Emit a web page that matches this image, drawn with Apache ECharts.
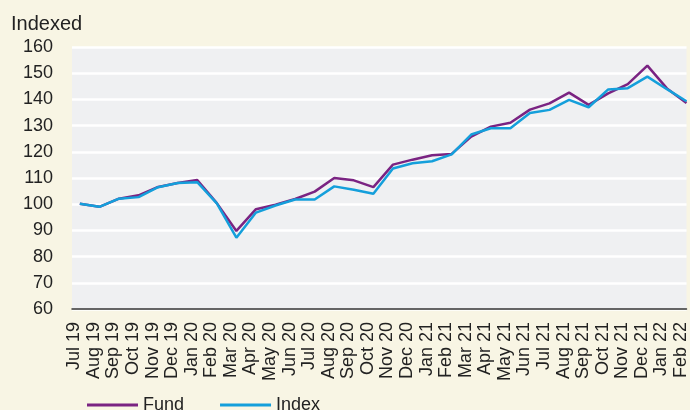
<!DOCTYPE html>
<html>
<head>
<meta charset="utf-8">
<script src="https://cdn.jsdelivr.net/npm/echarts@6/dist/echarts.min.js"></script>
<style>
    html, body { margin: 0; padding: 0; background: #F8F5E4; }
    #chart_area { width: 690px; height: 410px; }
</style>
</head>
<body>
<div id="chart_area"></div>
<script>
const months = ['Jul 19', 'Aug 19', 'Sep 19', 'Oct 19', 'Nov 19', 'Dec 19', 'Jan 20', 'Feb 20',
    'Mar 20', 'Apr 20', 'May 20', 'Jun 20', 'Jul 20', 'Aug 20', 'Sep 20', 'Oct 20',
    'Nov 20', 'Dec 20', 'Jan 21', 'Feb 21', 'Mar 21', 'Apr 21', 'May 21', 'Jun 21',
    'Jul 21', 'Aug 21', 'Sep 21', 'Oct 21', 'Nov 21', 'Dec 21', 'Jan 22', 'Feb 22'];

const fundValues = [100.2, 99, 102.1, 103.4, 106.6, 108.1, 109.2, 100.4,
    89.8, 98.1, 99.8, 102, 104.8, 110, 109.1, 106.5,
    115.1, 117, 118.7, 119.2, 125.8, 129.6, 131.1, 136.1,
    138.5, 142.6, 137.9, 142.3, 145.8, 152.9, 144.2, 138.6];

const indexValues = [100.2, 99, 102.1, 102.7, 106.5, 108.1, 108.4, 100.3,
    87.2, 96.8, 99.5, 101.8, 101.8, 106.8, 105.5, 104,
    113.6, 115.6, 116.4, 119, 126.6, 129, 129, 134.8,
    136, 139.8, 137, 143.8, 144.3, 148.7, 143.9, 139.3];

const yTicks = [60, 70, 80, 90, 100, 110, 120, 130, 140, 150, 160];

displayFundChart();

function displayFundChart() {
    let myChart = echarts.init(document.getElementById('chart_area'));
    const font = 'Liberation Sans, Arial, sans-serif';

    let option = {
        animation: false,
        backgroundColor: '#F8F5E4',
        textStyle: { fontFamily: font },
        title: {
            text: 'Indexed',
            left: 6,
            top: 9,
            textStyle: { fontSize: 20, fontWeight: 'normal', color: '#222', fontFamily: font }
        },
        grid: {
            left: 72,
            right: 0,
            top: 47,
            bottom: 101,
            show: true,
            backgroundColor: '#EFF0F2',
            borderWidth: 0
        },
        legend: {
            left: 87,
            top: 396,
            padding: 0,
            icon: 'rect',
            itemWidth: 51,
            itemHeight: 3,
            itemGap: 36,
            textStyle: { fontSize: 18, color: '#222', fontFamily: font },
            data: ['Fund', 'Index']
        },
        xAxis: {
            type: 'value',
            min: -0.4,
            max: months.length - 1,
            axisLine: { show: true, onZero: false, lineStyle: { color: '#333', width: 1.5 } },
            axisTick: { show: false },
            splitLine: { show: false },
            axisLabel: {
                customValues: months.map((m, i) => i),
                formatter: v => months[v],
                rotate: 90,
                margin: 13,
                verticalAlign: 'bottom',
                lineHeight: 11,
                fontSize: 18,
                color: '#222',
                fontFamily: font
            }
        },
        yAxis: {
            type: 'value',
            min: yTicks[0],
            max: yTicks[yTicks.length - 1],
            interval: 10,
            axisLine: { show: false },
            axisTick: { show: false },
            splitLine: { lineStyle: { color: '#FFFFFF', width: 2.5 } },
            axisLabel: { fontSize: 18, color: '#222', margin: 19, fontFamily: font }
        },
        series: [
            {
                name: 'Fund',
                type: 'line',
                symbol: 'none',
                color: '#7A2382',
                lineStyle: { width: 2.5 },
                data: fundValues.map((v, i) => [i, v])
            },
            {
                name: 'Index',
                type: 'line',
                symbol: 'none',
                color: '#149FDB',
                lineStyle: { width: 2.5 },
                data: indexValues.map((v, i) => [i, v])
            }
        ]
    };

    myChart.setOption(option);
}
</script>
</body>
</html>
